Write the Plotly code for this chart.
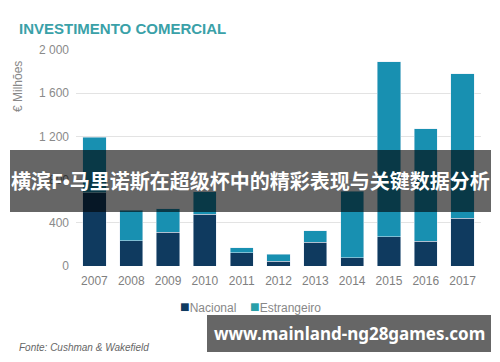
import plotly.graph_objects as go

years = ["2007", "2008", "2009", "2010", "2011", "2012", "2013", "2014", "2015", "2016", "2017"]
nacional = [680, 235, 312, 480, 123, 46, 219, 77, 271, 228, 440]
estrangeiro = [510, 283, 219, 208, 47, 62, 108, 613, 1621, 1042, 1338]
y_ticks = [0, 400, 800, 1200, 1600, 2000]
y_tick_text = ["0", "400", "800", "1 200", "1 600", "2 000"]
series_colors = {"Nacional": "#0f3a5f", "Estrangeiro": "#1890b1"}

W, H = 500, 362
L, R, T, B = 76, 19, 50, 96
PW, PH = W - L - R, H - T - B

def px(x):
    return (x - L) / PW

def py(y):
    return (H - B - y) / PH

fig = go.Figure()
fig.add_trace(go.Bar(x=years, y=nacional, name="Nacional", marker_color=series_colors["Nacional"]))
fig.add_trace(go.Bar(x=years, y=estrangeiro, name="Estrangeiro", marker_color=series_colors["Estrangeiro"]))

fig.update_layout(
    width=W, height=H,
    margin=dict(l=L, r=R, t=T, b=B),
    barmode="stack", bargap=0.37,
    plot_bgcolor="white", paper_bgcolor="white",
    font=dict(family="Liberation Sans, Arial, sans-serif", color="#888888", size=12),
    showlegend=False,
    xaxis=dict(showgrid=False, showline=False, ticks="", ticklabelstandoff=6,
               tickfont=dict(size=12, color="#808080")),
    yaxis=dict(range=[0, 2000], tickvals=y_ticks, ticktext=y_tick_text, showgrid=True,
               gridcolor="#e3e3e3", gridwidth=1, zeroline=False, ticks="", ticklabelstandoff=6,
               tickfont=dict(size=12, color="#8a8a8a")),
)

# legend drawn as text
fig.add_annotation(text=f"<span style='color:{series_colors['Nacional']};font-size:16px'>■</span>Nacional",
                   xref="paper", yref="paper",
                   x=px(178), y=py(306), xanchor="left", yanchor="middle", showarrow=False,
                   font=dict(size=12, color="#888888"))
fig.add_annotation(text="<span style='color:#2a9fa8;font-size:16px'>■</span>Estrangeiro",
                   xref="paper", yref="paper",
                   x=px(248), y=py(306), xanchor="left", yanchor="middle", showarrow=False,
                   font=dict(size=12, color="#888888"))

fig.add_annotation(text="<b>INVESTIMENTO COMERCIAL</b>", xref="paper", yref="paper",
                   x=px(17), y=py(28), xanchor="left", yanchor="middle", showarrow=False,
                   font=dict(size=15, color="#3aa1a8", family="Liberation Sans, Arial"))
fig.add_annotation(text="€ Milhões", xref="paper", yref="paper", textangle=-90,
                   x=px(18), y=py(87), xanchor="center", yanchor="middle", showarrow=False,
                   font=dict(size=12, color="#888888"))
fig.add_annotation(text="<i>Fonte: Cushman &amp; Wakefield</i>", xref="paper", yref="paper",
                   x=px(17), y=py(347), xanchor="left", yanchor="middle", showarrow=False,
                   font=dict(size=10, color="#666666"))

fig.add_shape(type="rect", xref="paper", yref="paper", x0=px(10), x1=px(491), y0=py(212), y1=py(150),
              fillcolor="rgba(0,0,0,0.6)", line=dict(width=0), layer="above")
fig.add_annotation(text="<b>横滨F<span style='font-family:Liberation Sans'>•</span>马里诺斯在超级杯中的精彩表现与关键数据分析</b>",
                   xref="paper", yref="paper",
                   x=px(250), y=py(181), xanchor="center", yanchor="middle", showarrow=False,
                   font=dict(size=20, color="white", family="Noto Sans CJK SC"))

fig.add_shape(type="rect", xref="paper", yref="paper", x0=px(207), x1=px(491), y0=py(352), y1=py(315),
              fillcolor="rgba(0,0,0,0.6)", line=dict(width=0), layer="above")
fig.add_annotation(text="<b>www.mainland-ng28games.com</b>", xref="paper", yref="paper",
                   x=px(349), y=py(333), xanchor="center", yanchor="middle", showarrow=False,
                   font=dict(size=17, color="white", family="Noto Sans, Open Sans"))

fig.write_html("out.html", config={"displayModeBar": False},
               post_script="document.body.style.margin='0';")
